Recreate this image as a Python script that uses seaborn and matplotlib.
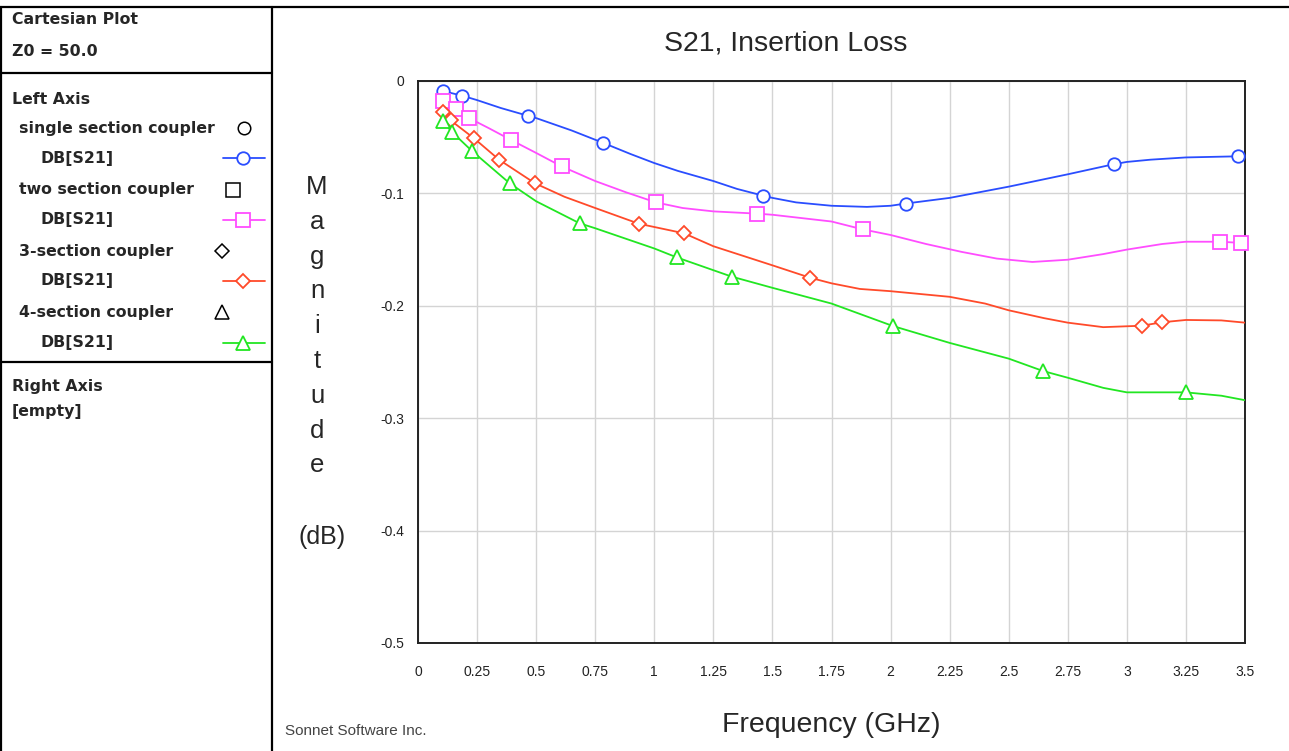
import numpy as np
import pandas as pd
import matplotlib
matplotlib.use("Agg")
import matplotlib.pyplot as plt
from matplotlib.lines import Line2D
import seaborn as sns

# --- data (frequency in GHz, magnitude in dB) ---
single_f = [0.106, 0.186, 0.25, 0.35, 0.466, 0.5, 0.65, 0.783, 0.9, 1.0, 1.1, 1.25, 1.35, 1.46, 1.5, 1.6,
            1.75, 1.9, 2.0, 2.065, 2.25, 2.5, 2.75, 2.945, 3.0, 3.1, 3.25, 3.47, 3.5]
single_db = [-0.009, -0.013, -0.017, -0.024, -0.031, -0.033, -0.044, -0.055, -0.065, -0.073, -0.080, -0.089, -0.096, -0.102, -0.104, -0.108,
             -0.111, -0.112, -0.111, -0.109, -0.104, -0.094, -0.083, -0.074, -0.072, -0.070, -0.068, -0.067, -0.067]
single_mk_f = [0.106, 0.186, 0.466, 0.783, 1.46, 2.065, 2.945, 3.47]
single_mk_db = [-0.009, -0.013, -0.031, -0.055, -0.102, -0.109, -0.074, -0.067]

two_f = [0.105, 0.161, 0.216, 0.3, 0.394, 0.5, 0.608, 0.75, 0.88, 1.007, 1.12, 1.25, 1.435, 1.5,
         1.75, 1.882, 2.0, 2.15, 2.3, 2.45, 2.6, 2.75, 2.9, 3.0, 3.15, 3.25, 3.394, 3.482, 3.5]
two_db = [-0.018, -0.025, -0.033, -0.042, -0.0525, -0.064, -0.076, -0.089, -0.099, -0.108, -0.113, -0.116, -0.118, -0.119,
          -0.125, -0.132, -0.137, -0.145, -0.152, -0.158, -0.161, -0.159, -0.154, -0.150, -0.145, -0.143, -0.143, -0.144, -0.144]
two_mk_f = [0.105, 0.161, 0.216, 0.394, 0.608, 1.007, 1.435, 1.882, 3.394, 3.482]
two_mk_db = [-0.018, -0.025, -0.033, -0.0525, -0.076, -0.108, -0.118, -0.132, -0.143, -0.144]

three_f = [0.105, 0.138, 0.237, 0.343, 0.495, 0.62, 0.75, 0.935, 1.126, 1.25, 1.5, 1.659,
           1.75, 1.87, 2.0, 2.25, 2.4, 2.5, 2.65, 2.75, 2.9, 3.065, 3.147, 3.25, 3.4, 3.5]
three_db = [-0.028, -0.035, -0.051, -0.070, -0.091, -0.103, -0.113, -0.127, -0.1355, -0.147, -0.164, -0.175,
            -0.180, -0.185, -0.187, -0.192, -0.198, -0.204, -0.211, -0.215, -0.219, -0.2177, -0.2147, -0.2126, -0.213, -0.215]
three_mk_f = [0.105, 0.138, 0.237, 0.343, 0.495, 0.935, 1.126, 1.659, 3.065, 3.147]
three_mk_db = [-0.028, -0.035, -0.051, -0.070, -0.091, -0.127, -0.1355, -0.175, -0.2177, -0.2147]

four_f = [0.105, 0.145, 0.227, 0.388, 0.5, 0.684, 0.75, 1.0, 1.096, 1.327, 1.5,
          1.75, 2.01, 2.25, 2.5, 2.645, 2.75, 2.9, 3.0, 3.249, 3.4, 3.5]
four_db = [-0.036, -0.0456, -0.062, -0.091, -0.107, -0.1266, -0.131, -0.149, -0.157, -0.174, -0.184,
           -0.198, -0.218, -0.233, -0.247, -0.258, -0.264, -0.273, -0.277, -0.277, -0.280, -0.284]
four_mk_f = [0.105, 0.145, 0.227, 0.388, 0.684, 1.096, 1.327, 2.01, 2.645, 3.249]
four_mk_db = [-0.036, -0.0456, -0.062, -0.091, -0.1266, -0.157, -0.174, -0.218, -0.258, -0.277]

series_names = ["single section coupler", "two section coupler", "3-section coupler", "4-section coupler"]
colors = ["#2a4dff", "#ff4dff", "#ff4a2a", "#22e622"]
markers = ["o", "s", "D", "^"]
marker_sizes = [9, 10, 7.5, 9.5]
x_ticks = [0, 0.25, 0.5, 0.75, 1, 1.25, 1.5, 1.75, 2, 2.25, 2.5, 2.75, 3, 3.25, 3.5]
y_ticks = [0, -0.1, -0.2, -0.3, -0.4, -0.5]

curves = [(single_f, single_db, single_mk_f, single_mk_db),
          (two_f, two_db, two_mk_f, two_mk_db),
          (three_f, three_db, three_mk_f, three_mk_db),
          (four_f, four_db, four_mk_f, four_mk_db)]

sns.set_style("white")
plt.rcParams["font.family"] = ["Liberation Sans", "DejaVu Sans"]

W, H = 1289, 751
fig = plt.figure(figsize=(W / 100, H / 100), dpi=100)
ax = fig.add_axes([418 / W, 1 - 643 / H, (1245 - 418) / W, (643 - 81) / H])

for (f, db, mf, mdb), c, m, ms in zip(curves, colors, markers, marker_sizes):
    sns.lineplot(x=f, y=db, ax=ax, color=c, linewidth=1.3, sort=False, zorder=3)
    ax.plot(mf, mdb, linestyle="none", marker=m, markersize=ms, markerfacecolor="white",
            markeredgecolor=c, markeredgewidth=1.3, zorder=4, clip_on=False)

ax.set_xlim(0, 3.5)
ax.set_ylim(-0.5, 0)
ax.set_xticks(x_ticks)
ax.set_yticks(y_ticks)
ax.set_xticklabels([f"{t:g}" for t in x_ticks])
ax.set_yticklabels([f"{t:g}" for t in y_ticks])
ax.grid(True, color="#d4d4d4", linewidth=1.0)
ax.set_axisbelow(True)
for s in ax.spines.values():
    s.set_color("#222222")
    s.set_linewidth(1.4)
ax.tick_params(axis="both", direction="out", length=7, width=1, color="#bbbbbb",
               labelsize=10, labelcolor="#222222")
ax.tick_params(axis="x", pad=9)
ax.tick_params(axis="y", pad=3)
ax.set_xlabel("")
ax.set_ylabel("")

# titles
fig.text(786 / W, 1 - 44 / H, "S21, Insertion Loss", ha="center", va="center", fontsize=20.5)
fig.text(831 / W, 1 - 725 / H, "Frequency (GHz)", ha="center", va="center", fontsize=20.5)
for i, ch in enumerate("Magnitude"):
    fig.text(317 / W, 1 - (187 + i * 34.8) / H, ch, ha="center", va="center", fontsize=18.5)
fig.text(322 / W, 1 - 537 / H, "(dB)", ha="center", va="center", fontsize=18)
fig.text(285 / W, 1 - 731 / H, "Sonnet Software Inc.", ha="left", va="center",
         fontsize=11, color="#444444")

# frame lines of the left info panel
def fline(x0, y0, x1, y1, lw=1.6):
    fig.add_artist(Line2D([x0 / W, x1 / W], [1 - y0 / H, 1 - y1 / H], color="black", linewidth=lw))

fline(0, 7, W, 7)
fline(1, 7, 1, H)
fline(272, 7, 272, H)
fline(0, 73, 272, 73)
fline(0, 362, 272, 362)

bold = dict(fontsize=11.3, fontweight="bold", va="center", ha="left", family="DejaVu Sans")
fig.text(12 / W, 1 - 20 / H, "Cartesian Plot", **bold)
fig.text(12 / W, 1 - 51 / H, "Z0 = 50.0", **bold)
fig.text(12 / W, 1 - 99 / H, "Left Axis", **bold)
fig.text(12 / W, 1 - 387 / H, "Right Axis", **bold)
fig.text(12 / W, 1 - 411 / H, "[empty]", **bold)

sym_x = [244, 233, 222, 222]
for i, (name, c, m, ms) in enumerate(zip(series_names, colors, markers, marker_sizes)):
    y_name = 128 + i * 61.5
    y_db = y_name + 30
    fig.text(19 / W, 1 - y_name / H, name, **bold)
    fig.text(40 / W, 1 - y_db / H, "DB[S21]", **bold)
    fig.add_artist(Line2D([sym_x[i] / W], [1 - y_name / H], marker=m, markersize=ms,
                          markerfacecolor="white", markeredgecolor="black", markeredgewidth=1.1,
                          linestyle="none"))
    fig.add_artist(Line2D([223 / W, 265 / W], [1 - y_db / H, 1 - y_db / H], color=c, linewidth=1.3))
    fig.add_artist(Line2D([243 / W], [1 - y_db / H], marker=m, markersize=ms,
                          markerfacecolor="white", markeredgecolor=c, markeredgewidth=1.3,
                          linestyle="none"))

fig.savefig("out.png", dpi=100)
